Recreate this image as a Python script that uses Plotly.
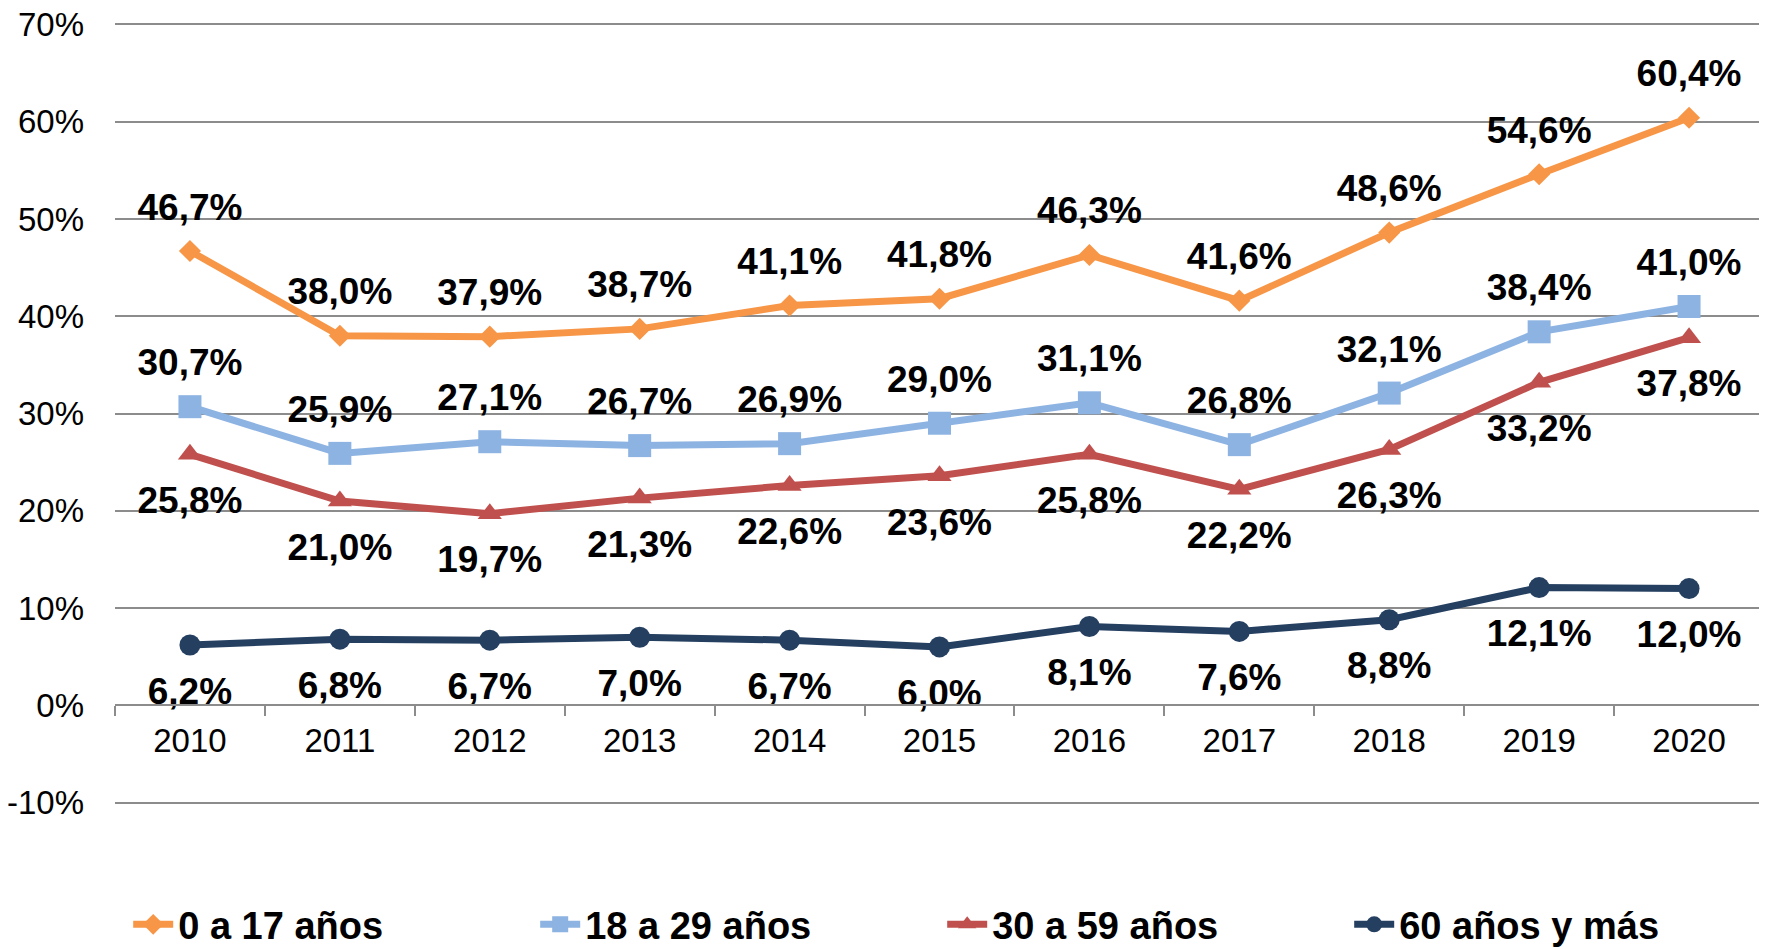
import plotly.graph_objects as go

YEARS = ["2010", "2011", "2012", "2013", "2014", "2015", "2016", "2017", "2018", "2019", "2020"]

AGE_0_17 = [46.7, 38.0, 37.9, 38.7, 41.1, 41.8, 46.3, 41.6, 48.6, 54.6, 60.4]
AGE_18_29 = [30.7, 25.9, 27.1, 26.7, 26.9, 29.0, 31.1, 26.8, 32.1, 38.4, 41.0]
AGE_30_59 = [25.8, 21.0, 19.7, 21.3, 22.6, 23.6, 25.8, 22.2, 26.3, 33.2, 37.8]
AGE_60_PLUS = [6.2, 6.8, 6.7, 7.0, 6.7, 6.0, 8.1, 7.6, 8.8, 12.1, 12.0]

Y_TICKS = [-10, 0, 10, 20, 30, 40, 50, 60, 70]
Y_TICK_LABELS = ["-10%", "0%", "10%", "20%", "30%", "40%", "50%", "60%", "70%"]

Y_MIN, Y_MAX = -10, 70
PAD = 0.25

SERIES = [
    ("0 a 17 años", AGE_0_17, "#F79646", "diamond", 17, "top center"),
    ("18 a 29 años", AGE_18_29, "#8DB3E2", "square", 23, "top center"),
    ("30 a 59 años", AGE_30_59, "#C0504D", "triangle-up", 21, "bottom center"),
    ("60 años y más", AGE_60_PLUS, "#243F60", "circle", 21, "bottom center"),
]

LABEL_FONT = {"family": "Liberation Sans, Arial", "size": 37, "color": "black", "weight": "bold"}
# invisible markers only used to push the value labels away from the points
LABEL_GAP = {"top center": 34, "bottom center": 48}


def _label(value: float) -> str:
    return f"{value:.1f}".replace(".", ",") + "%"


fig = go.Figure()
for name, values, color, symbol, size, position in SERIES:
    fig.add_trace(
        go.Scatter(
            x=YEARS,
            y=values,
            name=name,
            mode="lines+markers",
            line={"color": color, "width": 7},
            marker={"color": color, "symbol": symbol, "size": size},
        )
    )
for name, values, color, symbol, size, position in SERIES:
    fig.add_trace(
        go.Scatter(
            x=YEARS,
            y=values,
            mode="markers+text",
            marker={"size": LABEL_GAP[position], "opacity": 0},
            text=[_label(v) for v in values],
            textposition=position,
            textfont=LABEL_FONT,
            cliponaxis=False,
            showlegend=False,
            hoverinfo="skip",
        )
    )

# the page body adds an 8px offset, so the figure is sized to what stays visible
fig.update_layout(
    width=1759,
    height=941,
    paper_bgcolor="white",
    plot_bgcolor="white",
    margin={"l": 107, "r": 3, "t": 14, "b": 144, "autoexpand": False},
    font={"family": "Liberation Sans, Arial", "size": 33, "color": "black"},
    showlegend=True,
    legend={
        "orientation": "h",
        "x": 0.008,
        "xanchor": "left",
        "y": -0.193,
        "yanchor": "bottom",
        "font": {"family": "Liberation Sans Narrow, Arial Narrow, Liberation Sans", "size": 38, "weight": "bold"},
        "entrywidth": 352,
        "entrywidthmode": "pixels",
        "itemwidth": 40,
    },
)
fig.update_yaxes(
    range=[Y_MIN - PAD, Y_MAX + PAD],
    tickvals=Y_TICKS,
    ticktext=Y_TICK_LABELS,
    showgrid=True,
    gridcolor="#8C8C8C",
    gridwidth=2,
    zeroline=False,
    showline=False,
    ticks="",
    ticklabelstandoff=30,
    ticklabeloverflow="allow",
    automargin=False,
)
fig.update_xaxes(
    type="category",
    range=[-0.5, len(YEARS) - 0.5],
    anchor="free",
    position=(0 - Y_MIN + PAD) / (Y_MAX - Y_MIN + 2 * PAD),
    showline=True,
    linecolor="#8C8C8C",
    linewidth=2,
    ticks="outside",
    tickson="boundaries",
    ticklen=10,
    tickcolor="#8C8C8C",
    tickwidth=2,
    showgrid=False,
    ticklabelstandoff=6,
    automargin=False,
)

fig.write_html("out.html")
